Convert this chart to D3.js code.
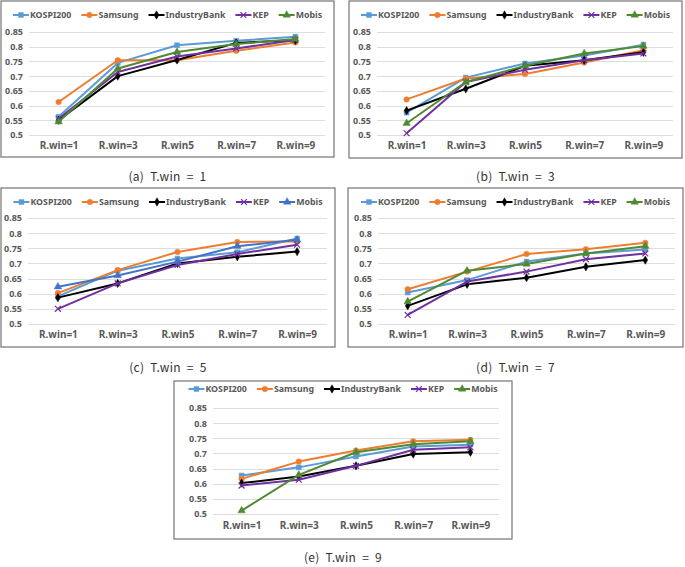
<!DOCTYPE html>
<html>
<head>
<meta charset="utf-8">
<script src="https://d3js.org/d3.v7.min.js"></script>
<style>
  body { margin: 0; background: #fff; }
  .frame { fill: #fff; stroke: #7f7f7f; stroke-width: 1.3; }
  .grid { stroke: #dedede; stroke-width: 1; }
  .tick-y { font-family: "Noto Sans", sans-serif; font-size: 9px; font-weight: bold; fill: #595959; }
  .tick-x { font-family: "Noto Sans", sans-serif; font-size: 10px; font-weight: bold; fill: #595959; }
  .legend { font-family: "Noto Sans", sans-serif; font-size: 8.8px; font-weight: bold; fill: #595959; }
  .caption { font-family: "Noto Sans CJK KR", sans-serif; font-size: 12px; fill: #333; word-spacing: 3px; letter-spacing: 0.3px; }
</style>
</head>
<body>
<script>
// categories and ticks
var categories = ["R.win=1", "R.win=3", "R.win5", "R.win=7", "R.win=9"];
var yTicks = [0.5, 0.55, 0.6, 0.65, 0.7, 0.75, 0.8, 0.85];
var captions = ["(a) T.win = 1", "(b) T.win = 3", "(c) T.win = 5", "(d) T.win = 7", "(e) T.win = 9"];
var seriesNames = ["KOSPI200", "Samsung", "IndustryBank", "KEP", "Mobis"];

// one row per panel (T.win = 1, 3, 5, 7, 9)
var kospi200 = [
  [0.562, 0.745, 0.805, 0.820, 0.834],
  [0.576, 0.695, 0.743, 0.770, 0.807],
  [0.591, 0.676, 0.716, 0.737, 0.782],
  [0.604, 0.645, 0.706, 0.733, 0.746],
  [0.627, 0.654, 0.690, 0.723, 0.729]
];
var samsung = [
  [0.612, 0.754, 0.754, 0.786, 0.814],
  [0.621, 0.692, 0.707, 0.746, 0.788],
  [0.602, 0.678, 0.738, 0.771, 0.772],
  [0.615, 0.673, 0.731, 0.747, 0.768],
  [0.616, 0.673, 0.710, 0.740, 0.745]
];
var industryBank = [
  [0.550, 0.700, 0.755, 0.813, 0.822],
  [0.583, 0.657, 0.735, 0.754, 0.781],
  [0.587, 0.634, 0.700, 0.722, 0.739],
  [0.560, 0.631, 0.653, 0.689, 0.711],
  [0.602, 0.624, 0.659, 0.698, 0.704]
];
var kep = [
  [0.555, 0.714, 0.767, 0.794, 0.823],
  [0.506, 0.680, 0.722, 0.754, 0.777],
  [0.550, 0.634, 0.695, 0.731, 0.762],
  [0.530, 0.640, 0.673, 0.714, 0.733],
  [0.594, 0.613, 0.659, 0.712, 0.720]
];
var mobis = [
  [0.545, 0.726, 0.782, 0.809, 0.826],
  [0.540, 0.680, 0.735, 0.777, 0.802],
  [0.623, 0.660, 0.706, 0.757, 0.778],
  [0.574, 0.676, 0.698, 0.733, 0.757],
  [0.511, 0.629, 0.704, 0.730, 0.740]
];

var seriesValues = [kospi200, samsung, industryBank, kep, mobis];
var colors = ["#5b9bd5", "#ed7d31", "#000000", "#7030a0", "#4f8a33"];
var mobisColorC = "#4472c4";   // panel (c) draws Mobis in blue
var symbols = [d3.symbolSquare, d3.symbolCircle, d3.symbolDiamond,
               d3.symbolTimes || d3.symbolX || d3.symbolCross, d3.symbolTriangle];
var symbolSize = [24, 24, 20, 24, 24];
var strokeSymbol = [false, false, false, true, false];

var width = 685, height = 567;

// panel boxes (frame) and inner offsets
var panels = [
  {x: 1,   y: 1,   w: 333, h: 156, leg: 14, top: 31, bot: 134, lab: 148, left: 28, right: 9,  cap: 181},
  {x: 349, y: 1,   w: 333, h: 157, leg: 14, top: 31, bot: 134, lab: 148, left: 28, right: 9,  cap: 181},
  {x: 1,   y: 188, w: 334, h: 159, leg: 14, top: 30, bot: 136, lab: 150, left: 27, right: 8,  cap: 372},
  {x: 348, y: 188, w: 335, h: 159, leg: 14, top: 30, bot: 136, lab: 150, left: 30, right: 8,  cap: 372},
  {x: 174, y: 381, w: 338, h: 158, leg: 8,  top: 27, bot: 133, lab: 148, left: 39, right: 13, cap: 562}
];

var svg = d3.select("body").append("svg")
  .attr("width", width)
  .attr("height", height);

panels.forEach(function(p, pi) {
  var g = svg.append("g").attr("transform", "translate(" + p.x + "," + p.y + ")");

  g.append("rect").attr("class", "frame")
    .attr("x", 0).attr("y", 0).attr("width", p.w).attr("height", p.h);

  var x = d3.scalePoint().domain(categories).range([p.left, p.w - p.right]).padding(0.5);
  var y = d3.scaleLinear().domain([0.5, 0.85]).range([p.bot, p.top]);

  // gridlines
  g.selectAll(".grid").data(yTicks).enter().append("line")
    .attr("class", "grid")
    .attr("x1", p.left).attr("x2", p.w - p.right)
    .attr("y1", function(d) { return Math.round(y(d)) + 0.5; })
    .attr("y2", function(d) { return Math.round(y(d)) + 0.5; });

  // y axis labels
  var yAxis = d3.axisLeft(y).tickValues(yTicks).tickSize(0).tickPadding(6)
    .tickFormat(function(d) { return String(+d.toFixed(2)); });
  var ya = g.append("g").attr("transform", "translate(" + p.left + ",0)").call(yAxis);
  ya.select(".domain").remove();
  ya.selectAll("text").attr("class", "tick-y").attr("fill", null)
    .attr("font-family", null).attr("font-size", null);

  // x axis labels
  var xAxis = d3.axisBottom(x).tickSize(0).tickPadding(0);
  var xa = g.append("g").attr("transform", "translate(0," + (p.lab - 4) + ")").call(xAxis);
  xa.select(".domain").remove();
  xa.selectAll("text").attr("class", "tick-x").attr("fill", null)
    .attr("font-family", null).attr("font-size", null).attr("dy", "0.35em").attr("y", 0);

  var line = d3.line()
    .x(function(d, i) { return x(categories[i]); })
    .y(function(d) { return y(d); });

  seriesValues.forEach(function(sv, si) {
    var col = (si === 4 && pi === 2) ? mobisColorC : colors[si];
    var vals = sv[pi];
    g.append("path").datum(vals)
      .attr("fill", "none").attr("stroke", col).attr("stroke-width", 2)
      .attr("stroke-linejoin", "round")
      .attr("d", line);
    var sym = d3.symbol().type(symbols[si]).size(symbolSize[si]);
    g.selectAll(".m" + si).data(vals).enter().append("path")
      .attr("class", "m" + si)
      .attr("transform", function(d, i) { return "translate(" + x(categories[i]) + "," + y(d) + ")"; })
      .attr("d", sym)
      .attr("fill", strokeSymbol[si] ? "none" : col)
      .attr("stroke", col)
      .attr("stroke-width", strokeSymbol[si] ? 1.2 : 0.5);
  });

  // legend, centred in the panel
  var leg = g.append("g");
  var cx = 0;
  seriesNames.forEach(function(name, si) {
    var col = (si === 4 && pi === 2) ? mobisColorC : colors[si];
    var item = leg.append("g").attr("transform", "translate(" + cx + ",0)");
    item.append("line").attr("x1", 0).attr("x2", 16).attr("y1", 0).attr("y2", 0)
      .attr("stroke", col).attr("stroke-width", 2);
    item.append("path").attr("transform", "translate(8,0)")
      .attr("d", d3.symbol().type(symbols[si]).size(symbolSize[si]))
      .attr("fill", strokeSymbol[si] ? "none" : col)
      .attr("stroke", col).attr("stroke-width", strokeSymbol[si] ? 1.2 : 0.5);
    var t = item.append("text").attr("class", "legend")
      .attr("x", 17).attr("dy", "0.35em").text(name);
    cx += 17 + t.node().getComputedTextLength() + 10;
  });
  var legW = cx - 10;
  leg.attr("transform", "translate(" + ((p.w - legW) / 2) + "," + p.leg + ")");

  // caption under the panel
  svg.append("text").attr("class", "caption")
    .attr("x", p.x + p.w / 2).attr("y", p.cap)
    .attr("text-anchor", "middle")
    .text(captions[pi]);
});
</script>
</body>
</html>
